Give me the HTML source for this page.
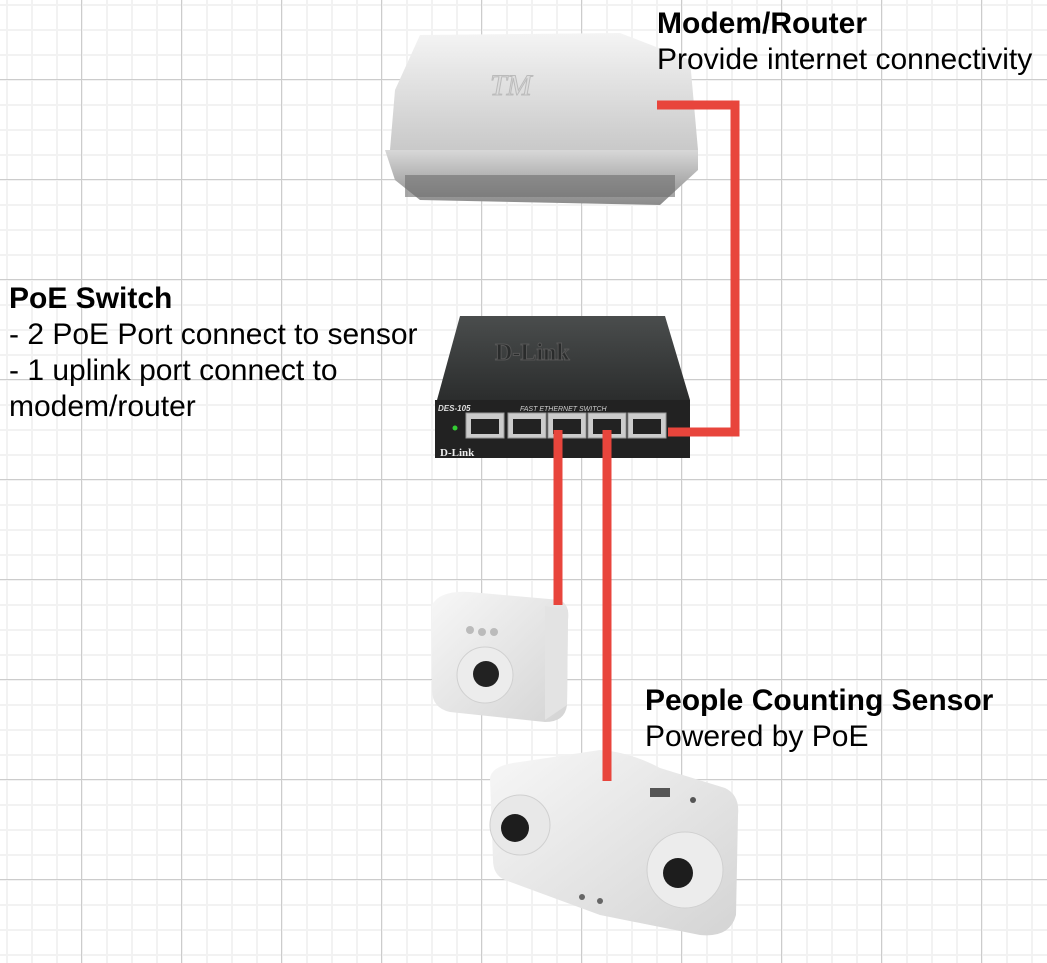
<!DOCTYPE html>
<html><head><style>
html,body{margin:0;padding:0;}
body{width:1047px;height:963px;position:relative;overflow:hidden;background:#fff;
background-image:
linear-gradient(to right,#cccccc 1px,transparent 1px),
linear-gradient(to bottom,#cccccc 1px,transparent 1px),
linear-gradient(to right,#f2f2f2 2px,transparent 2px),
linear-gradient(to bottom,#f2f2f2 2px,transparent 2px);
background-size:100px 100px,100px 100px,25px 25px,25px 25px;
background-position:81px 0,0 79px,6px 0,0 4px;
font-family:"Liberation Sans",Arial,sans-serif;color:#000;}
.t{position:absolute;font-size:30px;line-height:36px;white-space:nowrap;}
b{font-weight:bold;}
svg{position:absolute;left:0;top:0;}
</style></head><body>
<svg width="1047" height="963" viewBox="0 0 1047 963">
<defs>
<linearGradient id="rt" x1="0" y1="0" x2="0" y2="1"><stop offset="0" stop-color="#f4f4f4"/><stop offset="1" stop-color="#c9c9c9"/></linearGradient>
<linearGradient id="rf" x1="0" y1="0" x2="0" y2="1"><stop offset="0" stop-color="#d8d8d8"/><stop offset="1" stop-color="#8a8a8a"/></linearGradient>
<linearGradient id="sw" x1="0" y1="0" x2="0" y2="1"><stop offset="0" stop-color="#4a4d4d"/><stop offset="1" stop-color="#2b2d2d"/></linearGradient>
<linearGradient id="cw" x1="0" y1="0" x2="1" y2="1"><stop offset="0" stop-color="#f7f7f7"/><stop offset="1" stop-color="#d4d4d4"/></linearGradient>
</defs>
<path d="M420 35 L620 33 L690 60 L698 150 L390 150 L395 90 Z" fill="url(#rt)"/>
<path d="M385 150 L698 150 L698 170 L660 205 L420 200 L395 180 Z" fill="url(#rf)"/>
<rect x="405" y="175" width="270" height="22" fill="#6e6e6e" opacity="0.6"/>
<text x="490" y="95" font-family="Liberation Serif" font-size="30" font-style="italic" fill="#ddd" stroke="#bbb">TM</text>
<path d="M460 316 L665 316 L690 400 L437 400 Z" fill="url(#sw)"/>
<text x="495" y="360" font-family="Liberation Serif" font-weight="bold" font-size="24" fill="#2a2c2c" stroke="#555">D-Link</text>
<rect x="435" y="400" width="255" height="58" fill="#222"/>
<text x="438" y="411" font-size="8" font-style="italic" font-weight="bold" fill="#ddd">DES-105</text>
<text x="520" y="411" font-size="7" font-style="italic" fill="#ccc">FAST ETHERNET SWITCH</text>
<text x="440" y="456" font-family="Liberation Serif" font-weight="bold" font-size="11" fill="#eee">D-Link</text>
<circle cx="455" cy="428" r="2.5" fill="#3c3"/>
<g fill="#ccc" stroke="#999">
<rect x="466" y="413" width="38" height="25"/><rect x="508" y="413" width="38" height="25"/><rect x="548" y="413" width="38" height="25"/><rect x="588" y="413" width="38" height="25"/><rect x="628" y="413" width="38" height="25"/>
</g>
<g fill="#222"><rect x="471" y="419" width="28" height="15"/><rect x="513" y="419" width="28" height="15"/><rect x="553" y="419" width="28" height="15"/><rect x="593" y="419" width="28" height="15"/><rect x="633" y="419" width="28" height="15"/></g>
<path d="M432 605 Q440 590 470 592 L560 600 Q570 605 568 620 L567 705 Q565 722 545 722 L450 712 Q432 708 432 690 Z" fill="url(#cw)"/>
<path d="M545 606 L568 610 L567 705 L545 720 Z" fill="#e3e3e3"/>
<circle cx="485" cy="675" r="28" fill="#ececec" stroke="#d0d0d0"/>
<circle cx="486" cy="674" r="13" fill="#222"/>
<circle cx="470" cy="630" r="4" fill="#bbb"/><circle cx="482" cy="632" r="4" fill="#bbb"/><circle cx="494" cy="632" r="4" fill="#bbb"/>
<path d="M490 778 Q492 765 520 762 L600 750 Q630 752 660 768 L725 788 Q740 795 738 815 L736 915 Q730 938 700 935 L600 915 L505 880 Q493 875 493 860 Z" fill="url(#cw)"/>
<circle cx="520" cy="825" r="30" fill="#e8e8e8" stroke="#d0d0d0"/>
<circle cx="515" cy="828" r="14" fill="#1d1d1d"/>
<circle cx="685" cy="870" r="38" fill="#ececec" stroke="#d0d0d0"/>
<circle cx="678" cy="873" r="15" fill="#1d1d1d"/>
<rect x="650" y="788" width="20" height="9" fill="#555"/>
<circle cx="693" cy="800" r="3" fill="#555"/>
<circle cx="582" cy="897" r="3" fill="#666"/><circle cx="600" cy="901" r="3" fill="#666"/>
<g fill="none" stroke="#e8453c" stroke-width="9">
<polyline points="657,105 735,105 735,432 668,432"/>
<line x1="558" y1="430" x2="558" y2="605"/>
<line x1="607" y1="430" x2="607" y2="781"/>
</g>
</svg>
<div class="t" style="left:657px;top:6px"><b>Modem/Router</b><br>Provide internet connectivity</div>
<div class="t" style="left:9px;top:281px"><b>PoE Switch</b><br>- 2 PoE Port connect to sensor<br>- 1 uplink port connect to<br>modem/router</div>
<div class="t" style="left:645px;top:683px"><b>People Counting Sensor</b><br>Powered by PoE</div>
</body></html>
